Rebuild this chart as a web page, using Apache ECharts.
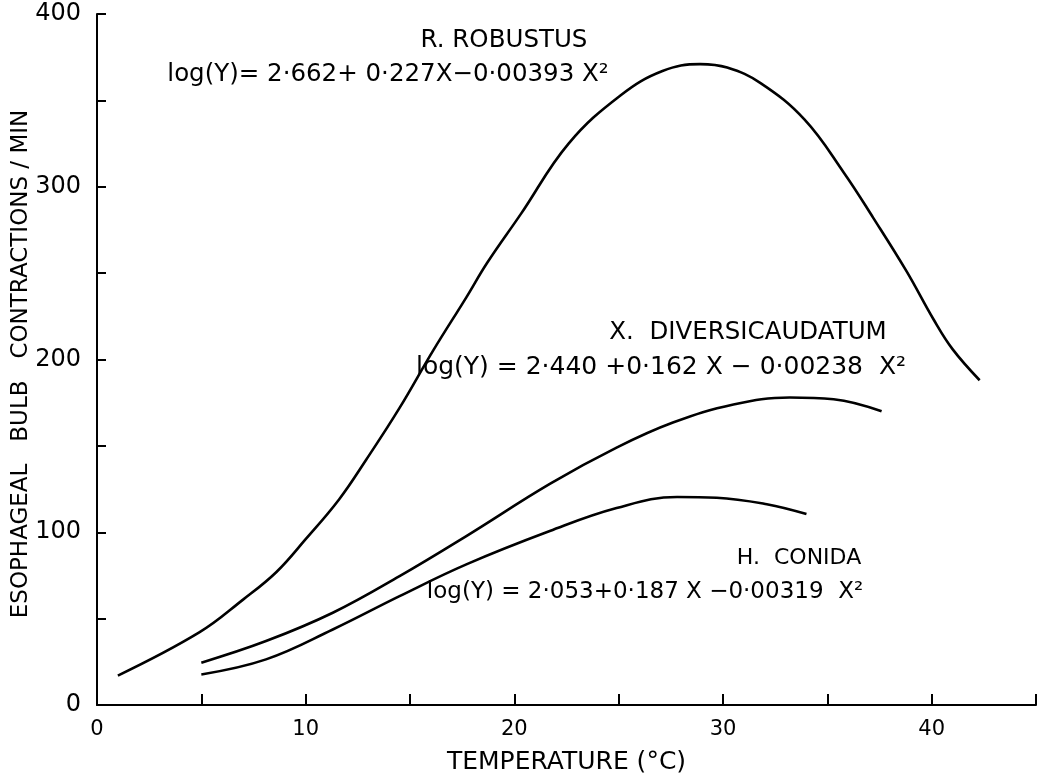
<!DOCTYPE html>
<html>
<head>
<meta charset="utf-8">
<script src="https://cdn.jsdelivr.net/npm/echarts@6/dist/echarts.min.js"></script>
<style>
html,body{margin:0;padding:0;background:#fff;}
#chart{width:1041px;height:780px;}
</style>
</head>
<body>
<div id="chart"></div>
<script>
// Temperature (°C) values and contraction rates
var robX = [1, 4.9, 7, 8.6, 10, 11.6, 12.9, 14.5, 16.1, 17.7, 18.7, 20.3, 22.6, 25.1, 27.1, 28.9, 30.2, 31.8, 33.9, 35.8, 37.2, 38.8, 40.1, 41.0, 42.3];
var robY = [17, 42, 61, 77, 96, 119, 142, 172, 205, 236, 256, 284, 325, 353, 367, 371, 369, 360, 339, 308, 282, 251, 223, 206, 188];

var xipX = [5, 8.1, 11.3, 14.5, 17.7, 21.7, 24.9, 27.6, 30.5, 33.2, 35.3, 37.6];
var xipY = [24.5, 37, 53.4, 74.6, 97.8, 128, 149, 163.5, 174, 178, 177, 170];

var conX = [5, 8.1, 11.3, 14.5, 17.7, 21.7, 24.9, 27.8, 29.7, 32.1, 34.0];
var conY = [17.7, 26.4, 43.7, 63, 81.4, 100.7, 114, 120.4, 120, 116.2, 110.5];

var xTickLabels = ['0', '10', '20', '30', '40'];
var yTickLabels = ['0', '100', '200', '300', '400'];

var labels = {
  rob: 'R. ROBUSTUS',
  robEq: 'log(Y)= 2·662+ 0·227X−0·00393 X²',
  xip: 'X.  DIVERSICAUDATUM',
  xipEq: 'log(Y) = 2·440 +0·162 X − 0·00238  X²',
  con: 'H.  CONIDA',
  conEq: 'log(Y) = 2·053+0·187 X −0·00319  X²'
};

function pairs(xs, ys) { return xs.map(function (x, i) { return [x, ys[i]]; }); }

var FONT = 'DejaVu Sans';
var chart = echarts.init(document.getElementById('chart'));

function lineSeries(name, xs, ys) {
  return {
    name: name, type: 'line', data: pairs(xs, ys),
    smooth: 0.4, showSymbol: false, symbol: 'none',
    lineStyle: { color: '#000', width: 2.6 }, silent: true
  };
}

function txt(x, y, t, size) {
  return {
    type: 'text', x: x, y: y, silent: true,
    style: { text: t, fill: '#000', font: size + 'px "' + FONT + '"', textAlign: 'center', textVerticalAlign: 'middle' }
  };
}

chart.setOption({
  animation: false,
  backgroundColor: '#fff',
  grid: { left: 97, right: 5, top: 14, bottom: 74, containLabel: false },
  xAxis: {
    type: 'value', min: 0, max: 45, interval: 5,
    axisLine: { show: true, lineStyle: { color: '#000', width: 2 } },
    axisTick: { show: true, inside: true, length: 11, lineStyle: { color: '#000', width: 2 } },
    splitLine: { show: false },
    axisLabel: {
      color: '#000', fontFamily: FONT, fontSize: 21, margin: 14,
      formatter: function (v) { var i = xTickLabels.indexOf(String(v)); return i >= 0 ? xTickLabels[i] : ''; }
    },
    name: 'TEMPERATURE (°C)', nameLocation: 'middle', nameGap: 45,
    nameTextStyle: { color: '#000', fontFamily: FONT, fontSize: 25 }
  },
  yAxis: {
    type: 'value', min: 0, max: 400, interval: 50,
    axisLine: { show: true, lineStyle: { color: '#000', width: 2 } },
    axisTick: { show: true, inside: true, length: 9, lineStyle: { color: '#000', width: 2 } },
    splitLine: { show: false },
    axisLabel: {
      color: '#000', fontFamily: FONT, fontSize: 24, margin: 16,
      formatter: function (v) { var i = yTickLabels.indexOf(String(v)); return i >= 0 ? yTickLabels[i] : ''; }
    }
  },
  graphic: [
    {
      type: 'text', x: 21, y: 364, rotation: Math.PI / 2, silent: true,
      style: { text: 'ESOPHAGEAL   BULB   CONTRACTIONS / MIN', fill: '#000', font: '23px "' + FONT + '"', textAlign: 'center', textVerticalAlign: 'middle' }
    },
    txt(504, 41, labels.rob, 24.5),
    txt(388, 75, labels.robEq, 24.5),
    txt(748, 333, labels.xip, 24.5),
    txt(661, 367, labels.xipEq, 25),
    txt(799, 558, labels.con, 22),
    txt(645, 592, labels.conEq, 23)
  ],
  series: [
    lineSeries('R. robustus', robX, robY),
    lineSeries('X. diversicaudatum', xipX, xipY),
    lineSeries('H. conida', conX, conY)
  ]
});
</script>
</body>
</html>
